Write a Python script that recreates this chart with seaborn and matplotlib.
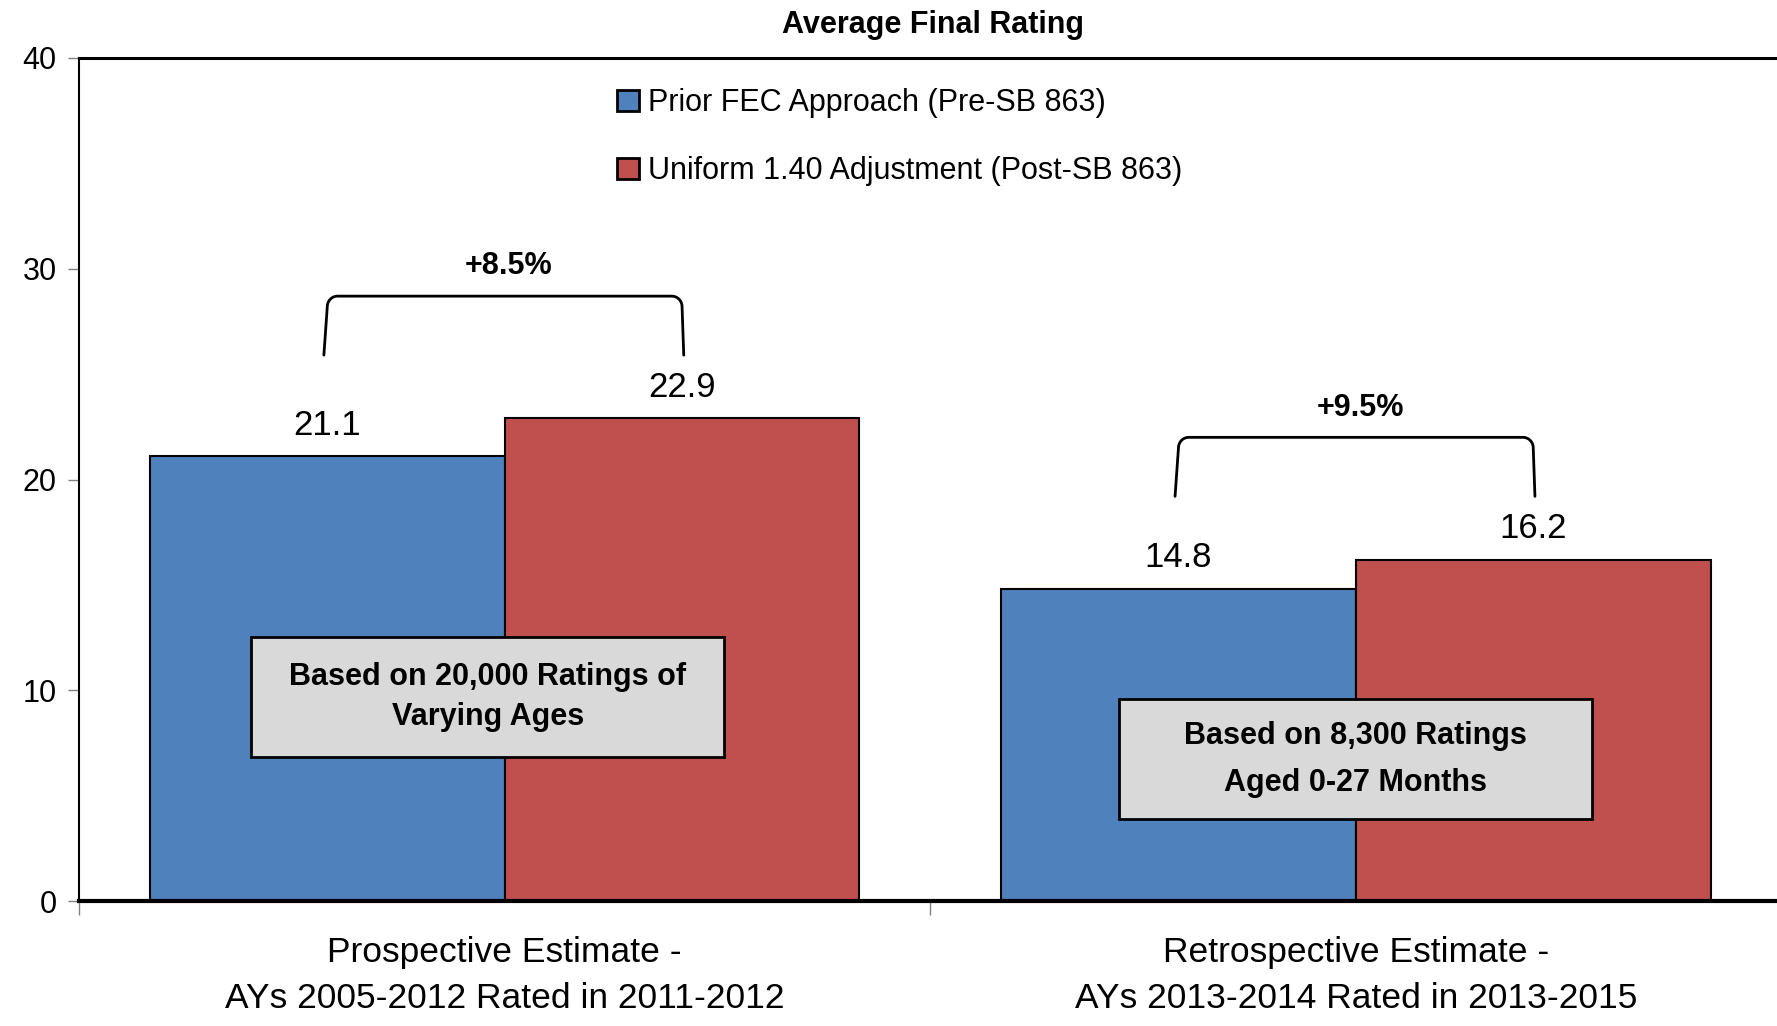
import numpy as np
import pandas as pd
import seaborn as sns
import matplotlib.pyplot as plt
from matplotlib.patches import Rectangle

# datos
categorias = ["Prospective Estimate -\nAYs 2005-2012 Rated in 2011-2012",
              "Retrospective Estimate -\nAYs 2013-2014 Rated in 2013-2015"]
series = ["Prior FEC Approach (Pre-SB 863)", "Uniform 1.40 Adjustment (Post-SB 863)"]
prior_fec = [21.1, 14.8]
uniform_140 = [22.9, 16.2]
cambios = ["+8.5%", "+9.5%"]
notas = ["Based on 20,000 Ratings of\nVarying Ages", "Based on 8,300 Ratings\nAged 0-27 Months"]
colores = ["#4F81BD", "#C0504D"]

df = pd.DataFrame({
    "categoria": categorias * 2,
    "serie": [series[0]] * 2 + [series[1]] * 2,
    "valor": prior_fec + uniform_140,
})

sns.set_style("white")
plt.rcParams['font.family'] = ['Liberation Sans Narrow', 'Liberation Sans', 'DejaVu Sans']
plt.rcParams['text.color'] = 'black'
plt.rcParams['xtick.color'] = 'black'
plt.rcParams['ytick.color'] = 'black'

fig = plt.figure(figsize=(17.77, 10.26), dpi=100)
ax = fig.add_axes([0.0445, 0.1218, 0.958, 0.8217])

ancho = 0.8336
sns.barplot(data=df, x="categoria", y="valor", hue="serie", palette=colores,
            width=ancho, gap=0, edgecolor="black", linewidth=1.5, ax=ax, saturation=1)

ax.set_xlim(-0.5, 1.5)
ax.set_ylim(0, 40)
ax.set_yticks([0, 10, 20, 30, 40])
ax.tick_params(axis="y", left=True, labelsize=22, length=8, color="#808080", width=1, pad=8)
ax.set_xlabel("")
ax.set_ylabel("")

# etiquetas de categoria sin marca, marcas en los limites
ax.set_xticks([0, 1])
ax.set_xticklabels(categorias, fontsize=25.5, linespacing=1.5)
ax.tick_params(axis="x", length=0, pad=25)
ax.set_xticks([-0.5, 0.5, 1.5], minor=True)
ax.tick_params(axis="x", which="minor", bottom=True, length=10, color="#808080", width=1)

ax.spines["left"].set_color("black")
ax.spines["left"].set_linewidth(1.5)
ax.spines["top"].set_color("black")
ax.spines["top"].set_linewidth(2.2)
ax.spines["bottom"].set_color("black")
ax.spines["bottom"].set_linewidth(3)
ax.spines["right"].set_visible(False)

# etiquetas de valores
off = ancho / 4
for i in range(2):
    ax.text(i - off, prior_fec[i] + 0.7, f"{prior_fec[i]:.1f}", ha="center", va="bottom", fontsize=25)
    ax.text(i + off, uniform_140[i] + 0.7, f"{uniform_140[i]:.1f}", ha="center", va="bottom", fontsize=25)

# corchetes con esquinas redondeadas
t = np.linspace(0, np.pi / 2, 12)
rx, ry = 0.012, 0.5
for i in range(2):
    base = uniform_140[i] + 3.0
    top = base + 2.8
    xl, xr = i - off - 0.004, i + off + 0.002
    izq_x = xl + 0.004 + rx * (1 - np.cos(t))
    izq_y = top - ry + ry * np.sin(t)
    der_x = xr - 0.002 - rx * (1 - np.cos(t[::-1]))
    der_y = top - ry + ry * np.sin(t[::-1])
    xs = np.concatenate([[xl], izq_x, der_x, [xr]])
    ys = np.concatenate([[base], izq_y, der_y, [base]])
    ax.plot(xs, ys, color="black", lw=2)
    ax.text(i + 0.005, top + 0.7, cambios[i], ha="center", va="bottom", fontsize=22, fontweight="bold")

# cajas de notas
cajas = [(-0.298, 6.83, 0.556, 5.70), (0.7217, 3.87, 0.556, 5.70)]
interlineado = [1.4, 1.75]
for i, (x0, y0, w, h) in enumerate(cajas):
    ax.add_patch(Rectangle((x0, y0), w, h, facecolor="#D9D9D9", edgecolor="black", lw=2, zorder=5))
    ax.text(x0 + w / 2, y0 + h / 2, notas[i], ha="center", va="center", fontsize=22,
            fontweight="bold", linespacing=interlineado[i], zorder=6)

ax.legend(loc="upper left", bbox_to_anchor=(0.30, 0.997), frameon=False, fontsize=22,
          handlelength=0.7, handleheight=0.7, handletextpad=0.3, labelspacing=1.25)
for h in ax.get_legend().legend_handles:
    h.set_edgecolor("black")
    h.set_linewidth(2)

fig.text(0.525, 0.976, "Average Final Rating", ha="center", va="center", fontsize=22, fontweight="bold")

fig.savefig("out.png", dpi=100)
